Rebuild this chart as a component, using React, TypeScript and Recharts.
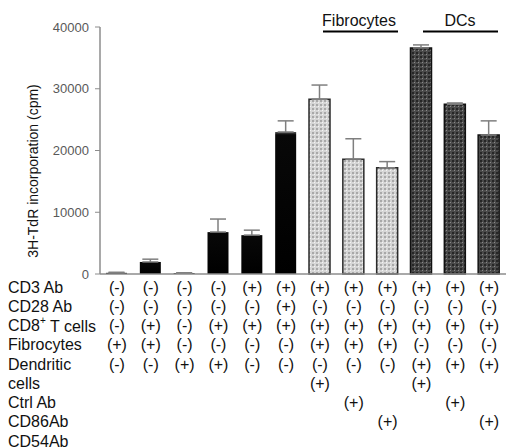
import {
  Bar,
  BarChart,
  Cell,
  Customized,
  ErrorBar,
  XAxis,
  YAxis,
} from 'recharts';

// 12 culture conditions, left to right
const conditions = ['c1', 'c2', 'c3', 'c4', 'c5', 'c6', 'c7', 'c8', 'c9', 'c10', 'c11', 'c12'];
const cpm = [200, 1950, 150, 6800, 6300, 23000, 28300, 18600, 17200, 36600, 27500, 22500];
const sem = [80, 450, 40, 2100, 800, 1800, 2300, 3300, 1000, 500, 200, 2300];
const group = ['none', 'none', 'none', 'none', 'none', 'none', 'fib', 'fib', 'fib', 'dc', 'dc', 'dc'];
const yTicks = [0, 10000, 20000, 30000, 40000];

// condition table under the axis
const rowLabels = ['CD3 Ab', 'CD28 Ab', 'CD8+ T cells', 'Fibrocytes', 'Dendritic', 'cells', 'Ctrl Ab', 'CD86Ab', 'CD54Ab'];
const tableRows = [
  ['-', '-', '-', '-', '+', '+', '+', '+', '+', '+', '+', '+'],
  ['-', '-', '-', '-', '-', '+', '-', '-', '-', '-', '-', '-'],
  ['-', '+', '-', '+', '+', '+', '+', '+', '+', '+', '+', '+'],
  ['+', '+', '-', '-', '-', '-', '+', '+', '+', '-', '-', '-'],
  ['-', '-', '+', '+', '-', '-', '-', '-', '-', '+', '+', '+'],
  ['', '', '', '', '', '', '+', '', '', '+', '', ''],
  ['', '', '', '', '', '', '', '+', '', '', '+', ''],
  ['', '', '', '', '', '', '', '', '+', '', '', '+'],
  ['', '', '', '', '', '', '', '', '', '', '', ''],
];

const data = conditions.map((name, i) => ({
  name,
  value: cpm[i],
  err: [0, sem[i]],
  group: group[i],
}));

const FILLS: Record<string, string> = {
  none: 'url(#blackGrad)',
  fib: 'url(#fibPattern)',
  dc: 'url(#dcPattern)',
};
const STROKES: Record<string, string> = {
  none: '#000',
  fib: '#2b2b2b',
  dc: '#111',
};

const FONT = 'Arial, "Liberation Sans", sans-serif';
const ROW_TOP = 287;
const ROW_STEP = 19.25;

interface TickProps {
  x?: number;
  y?: number;
  index?: number;
}

function TableTick({ x = 0, index = 0 }: TickProps) {
  return (
    <g>
      {tableRows.map((row, r) =>
        row[index] ? (
          <text
            key={r}
            x={x}
            y={ROW_TOP + r * ROW_STEP}
            textAnchor="middle"
            dominantBaseline="central"
            fontSize={16}
            fontFamily={FONT}
            fill="#111"
          >
            ({row[index]})
          </text>
        ) : null,
      )}
    </g>
  );
}

function Annotations() {
  return (
    <g fontFamily={FONT}>
      {rowLabels.map((label, r) => (
        <text
          key={label}
          x={8}
          y={ROW_TOP + r * ROW_STEP}
          dominantBaseline="central"
          fontSize={16}
          fill="#111"
        >
          {label === 'CD8+ T cells' ? (
            <>
              CD8<tspan fontSize={10} dy={-6}>+</tspan>
              <tspan dy={6}> T cells</tspan>
            </>
          ) : (
            label
          )}
        </text>
      ))}
      <text x={359} y={26} textAnchor="middle" fontSize={16} fill="#111">
        Fibrocytes
      </text>
      <line x1={323} x2={398} y1={31.5} y2={31.5} stroke="#000" strokeWidth={2} />
      <text x={460} y={26} textAnchor="middle" fontSize={16} fill="#111">
        DCs
      </text>
      <line x1={423} x2={498} y1={31.5} y2={31.5} stroke="#000" strokeWidth={2} />
      <text
        x={33}
        y={171}
        transform="rotate(-90 33 171)"
        textAnchor="middle"
        dominantBaseline="central"
        fontSize={14}
        fill="#111"
      >
        3H-TdR incorporation (cpm)
      </text>
    </g>
  );
}

export default function App() {
  return (
    <div style={{ width: 506, height: 447, background: '#fff' }}>
      <style>{`body{margin:0;overflow:hidden}`}</style>
      <BarChart
        width={506}
        height={447}
        data={data}
        margin={{ top: 27, right: 0, bottom: 0, left: 0 }}
        barCategoryGap={0}
      >
        <defs>
          <linearGradient id="blackGrad" x1="0" y1="0" x2="0" y2="1">
            <stop offset="0%" stopColor="#555" />
            <stop offset="2%" stopColor="#080808" />
            <stop offset="100%" stopColor="#000" />
          </linearGradient>
          <pattern id="fibPattern" width="4" height="4" patternUnits="userSpaceOnUse">
            <rect width="4" height="4" fill="#d6d6d6" />
            <rect width="2" height="2" fill="#a8a8a8" />
            <rect x="2" y="2" width="1" height="1" fill="#f4f4f4" />
          </pattern>
          <pattern id="dcPattern" width="4" height="4" patternUnits="userSpaceOnUse">
            <rect width="4" height="4" fill="#4a4a4a" />
            <rect width="2" height="2" fill="#262626" />
            <rect x="2" y="2" width="1" height="1" fill="#8a8a8a" />
          </pattern>
        </defs>
        <XAxis
          dataKey="name"
          axisLine={{ stroke: '#8c8c8c', strokeWidth: 1.5 }}
          tickLine={false}
          tick={<TableTick />}
          interval={0}
          height={173}
        />
        <YAxis
          domain={[0, 40000]}
          ticks={yTicks}
          width={100}
          axisLine={{ stroke: '#8c8c8c', strokeWidth: 1.5 }}
          tickLine={{ stroke: '#8c8c8c' }}
          tickSize={5}
          tickMargin={6}
          tick={{ fontSize: 13, fill: '#595959', fontFamily: FONT }}
        />
        <Bar dataKey="value" barSize={21} isAnimationActive={false}>
          {data.map((d, i) => (
            <Cell
              key={`cell-${i}`}
              fill={FILLS[d.group]}
              stroke={STROKES[d.group]}
              strokeWidth={d.group === 'none' ? 0 : 1.5}
            />
          ))}
          <ErrorBar
            dataKey="err"
            direction="y"
            width={8}
            stroke="#7f7f7f"
            strokeWidth={1.5}
          />
        </Bar>
        <Customized component={<Annotations />} />
      </BarChart>
    </div>
  );
}
